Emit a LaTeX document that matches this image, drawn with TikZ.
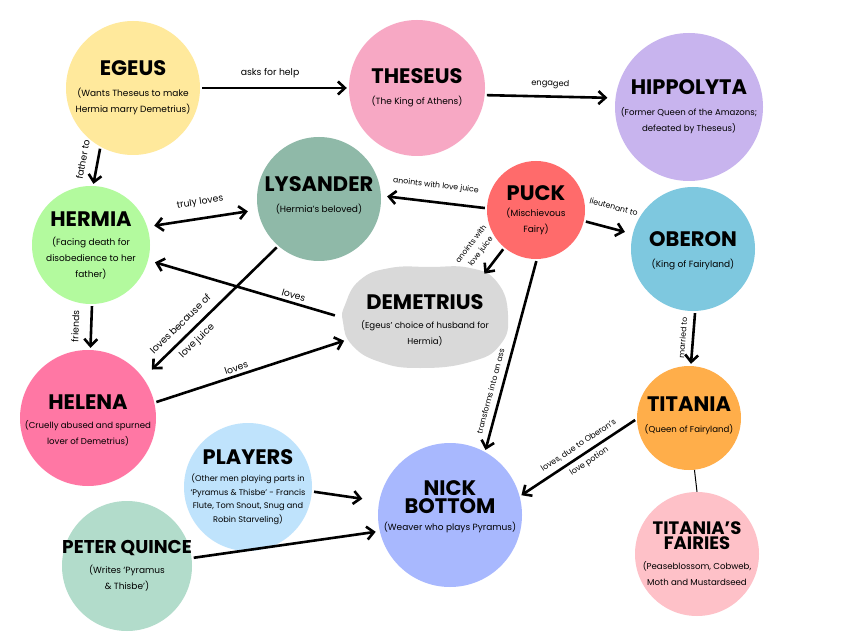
\documentclass[tikz,border=0pt]{standalone}
\usepackage{fontspec}
\setmainfont{Poppins}
\usetikzlibrary{arrows.meta, shapes.geometric}

\definecolor{egeusyellow}{HTML}{FFE99C}
\definecolor{theseuspink}{HTML}{F7A8C4}
\definecolor{hippolytalilac}{HTML}{C8B4EE}
\definecolor{lysandersage}{HTML}{8FB9A8}
\definecolor{puckred}{HTML}{FF6B6B}
\definecolor{oberonblue}{HTML}{7EC8DF}
\definecolor{hermiagreen}{HTML}{B3FA9E}
\definecolor{demetriusgrey}{HTML}{D9D9D9}
\definecolor{helenapink}{HTML}{FF77A4}
\definecolor{titaniaorange}{HTML}{FFAE4A}
\definecolor{playersblue}{HTML}{BFE3FC}
\definecolor{bottomblue}{HTML}{A8B8FE}
\definecolor{quincemint}{HTML}{B2DCCB}
\definecolor{fairiespink}{HTML}{FEC1C8}

\newcommand{\nm}[1]{{\fontsize{21}{22}\selectfont\bfseries #1}}

\begin{document}
\begin{tikzpicture}[x=1pt, y=-1pt,
    >={Straight Barb[length=7pt, width=13pt]},
    person/.style={circle, inner sep=0pt, minimum size=#1},
    lbl/.style={align=center, font=\fontsize{9}{16}\selectfont},
    arrow/.style={->, line width=2.6pt, shorten <=2pt, shorten >=2pt},
    tag/.style={sloped, inner sep=1pt, align=center, font=\fontsize{9.3}{21}\selectfont},
    small/.style={font=\fontsize{7.8}{18}\selectfont}
  ]
  \fill[white] (0,0) rectangle (848,636);

  \node[person=134, fill=egeusyellow, label={[lbl]center:{\nm{EGEUS}\\[5pt](Wants Theseus to make\\Hermia marry Demetrius)}}] (egeus) at (133,88) {};
  \node[person=136, fill=theseuspink, label={[lbl]center:{\nm{THESEUS}\\[5pt](The King of Athens)}}] (theseus) at (417,88) {};
  \node[person=148, fill=hippolytalilac, label={[lbl, font=\fontsize{8.6}{16}\selectfont]center:{\nm{HIPPOLYTA}\\[5pt](Former Queen of the Amazons;\\defeated by Theseus)}}] (hippolyta) at (689,107) {};
  \node[person=124, fill=lysandersage, label={[lbl, yshift=4pt]center:{\nm{LYSANDER}\\[5pt](Hermia's beloved)}}] (lysander) at (319,199) {};
  \node[person=98, fill=puckred, label={[lbl]center:{\nm{PUCK}\\[0pt](Mischievous\\Fairy)}}] (puck) at (536,210) {};
  \node[person=124, fill=oberonblue, label={[lbl, yshift=-2pt]center:{\nm{OBERON}\\[5pt](King of Fairyland)}}] (oberon) at (693,249) {};
  \node[person=118, fill=hermiagreen, label={[lbl]center:{\nm{HERMIA}\\[3pt](Facing death for\\disobedience to her\\father)}}] (hermia) at (91,245) {};
  \fill[demetriusgrey] plot[smooth cycle, tension=0.8] coordinates {(345,305) (360,280) (390,268) (430,267) (470,268) (497,282) (508,315) (500,345) (470,362) (420,368) (380,362) (352,345) (343,322)};
  \node[ellipse, inner sep=0pt, minimum width=176, minimum height=108, label={[lbl, yshift=-4pt, font=\fontsize{8.6}{16}\selectfont]center:{\nm{DEMETRIUS}\\[3pt](Egeus' choice of husband for\\Hermia)}}] (demetrius) at (425,316) {};
  \node[person=136, fill=helenapink, label={[lbl, yshift=-2pt, font=\fontsize{8.6}{16}\selectfont]center:{\nm{HELENA}\\[3pt](Cruelly abused and spurned\\lover of Demetrius)}}] (helena) at (88,418) {};
  \node[person=104, fill=titaniaorange, label={[lbl, yshift=2pt, font=\fontsize{8.6}{16}\selectfont]center:{\nm{TITANIA}\\[5pt](Queen of Fairyland)}}] (titania) at (689,418) {};
  \node[person=124, fill=fairiespink, label={[lbl, font=\fontsize{8.6}{16}\selectfont]center:{{\fontsize{18}{20}\selectfont\bfseries TITANIA’S}\\[-1pt]{\fontsize{18}{20}\selectfont\bfseries FAIRIES}\\[4pt](Peaseblossom, Cobweb,\\Moth and Mustardseed}}] (fairies) at (697,554) {};
  \node[person=128, fill=playersblue, label={[lbl, font=\fontsize{8.2}{13.5}\selectfont]center:{\nm{PLAYERS}\\[4pt](Other men playing parts in\\`Pyramus \& Thisbe' - Francis\\Flute, Tom Snout, Snug and\\Robin Starveling)}}] (players) at (248,487) {};
  \node[person=144, fill=bottomblue, label={[lbl, yshift=8pt]center:{\nm{NICK}\\[2pt]\nm{BOTTOM}\\[1pt](Weaver who plays Pyramus)}}] (nick) at (450,515) {};
  \node[person=130, fill=quincemint, label={[lbl]center:{{\fontsize{18.5}{22}\selectfont\bfseries PETER QUINCE}\\[4pt](Writes `Pyramus\\\& Thisbe')}}] (quince) at (127,566) {};

  \draw[arrow] (egeus.0) -- node[tag, above=8pt, pos=.47] {asks for help} (theseus.180);
  \draw[arrow, shorten >=8pt] (theseus.-6) -- node[tag, font=\fontsize{8.3}{10}\selectfont, above=6pt] {engaged} (hippolyta.173);
  \draw[arrow] (egeus.241) -- node[tag, above=9pt, pos=.4] {father to} (hermia.88);
  \draw[arrow, <->, shorten <=7pt, shorten >=10pt] (hermia.18) -- node[tag, above=9pt] {truly loves} (lysander.190);
  \draw[arrow, shorten >=6pt] (puck.178) -- node[tag, small, above=10pt] {anoints with love juice} (lysander.3);
  \draw[arrow, shorten >=8pt] (puck.-13) -- node[tag, small, above=16pt] {lieutenant to} (oberon.166);
  \draw[arrow] (puck.230) -- node[tag, small, font=\fontsize{7.5}{12}\selectfont, above=10pt] {anoints with\\love juice} (demetrius.35);
  \draw[arrow] (puck.-89) -- node[tag, small, above=5pt, pos=.7] {transforms into an ass} (nick.61);
  \draw[arrow] (oberon.-88) -- node[tag, small, above=5pt] {married to} (titania.88);
  \draw[arrow] (titania.181) -- node[tag, font=\fontsize{8}{19}\selectfont, pos=.45] {loves, due to Oberon's\\love potion} (nick.15);
  \draw[line width=1pt] (titania.-84) -- (fairies.90);
  \draw[arrow] (hermia.-89) -- node[tag, above=10pt] {friends} (helena.88);
  \draw[arrow, shorten >=12pt] (lysander.229) -- node[tag, font=\fontsize{9.5}{23}\selectfont, pos=.66] {loves because of\\love juice} (helena.36);
  \draw[arrow, shorten >=7pt] (demetrius.180) -- node[tag, above=2pt, pos=.24] {loves} (hermia.-15);
  \draw[arrow] (helena.13) -- node[tag, above=2pt, pos=.44] {loves} (demetrius.197);
  \draw[arrow, shorten >=17pt] (players.-4) -- (nick.169);
  \draw[arrow, shorten >=4pt] (quince.7) -- (nick.193);
\end{tikzpicture}
\end{document}
